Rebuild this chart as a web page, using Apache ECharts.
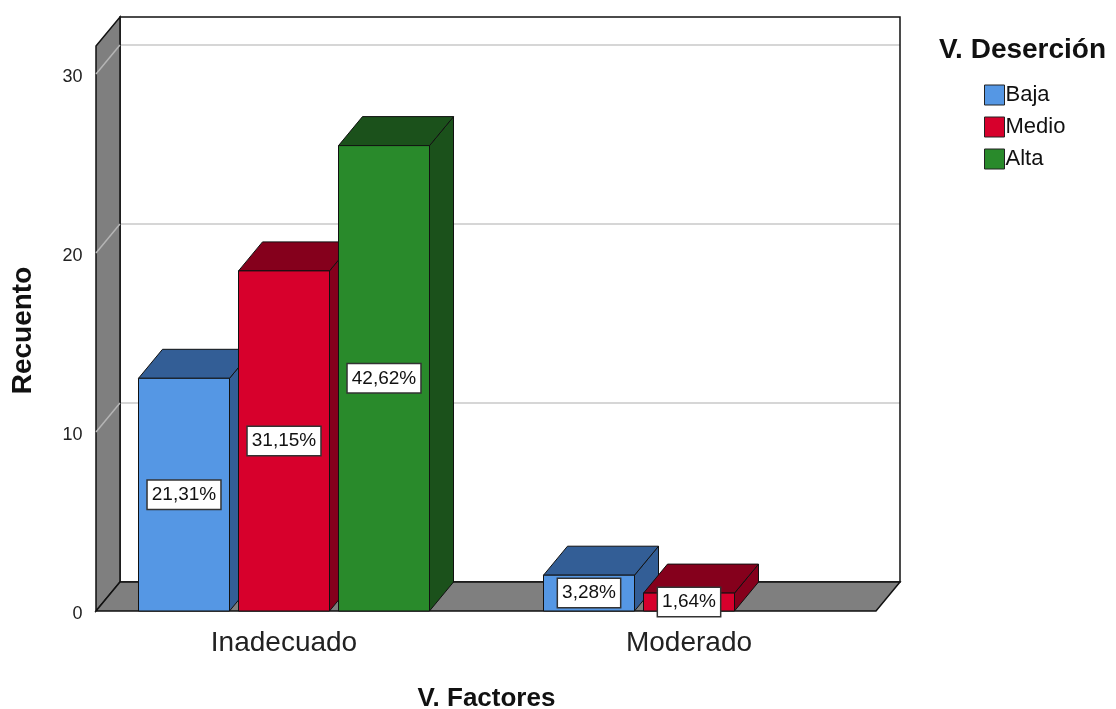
<!DOCTYPE html>
<html>
<head>
<meta charset="utf-8">
<script src="https://cdn.jsdelivr.net/npm/echarts@6/dist/echarts.min.js"></script>
<style>
html, body { margin: 0; padding: 0; background: #fff; }
#main { width: 1116px; height: 709px; }
</style>
</head>
<body>
<div id="main"></div>
<script>
// datos del grafico (recuento y porcentaje)
var categories = ['Inadecuado', 'Moderado'];
var seriesNames = ['Baja', 'Medio', 'Alta'];
var countBaja = [13, 2];
var countMedio = [19, 1];
var countAlta = [26, 0];
var pctBaja = [21.31, 3.28];
var pctMedio = [31.15, 1.64];
var pctAlta = [42.62, 0];

var FONT = '"Liberation Sans", Arial, sans-serif';
// profundidad 3D
var DX = 24, DY = -29;
var BAR_W = 91;
var offsets = [-100, 0, 100];
var frontCol = ['#5597e4', '#d7002c', '#298a2b'];
var darkCol = ['#335e96', '#85001c', '#1b511b'];

// paredes (fondo)
var wallL = 96, wallR = 900, backTop = 17, backBottom = 582, frontBottom = 611;

function fmtPct(v) {
	return v.toFixed(2).replace('.', ',') + '%';
}

function buildData(counts, pcts) {
	var arr = [];
	for (var i = 0; i < counts.length; i++) {
		arr.push([i, counts[i], pcts[i]]);
	}
	return arr;
}

function renderBar(params, api) {
	var v = api.value(1);
	if (!v) return;
	var si = params.seriesIndex;
	var p = api.coord([api.value(0), v]);
	var b = api.coord([api.value(0), 0]);
	var cx = p[0] + offsets[si];
	var x0 = cx - BAR_W / 2, x1 = cx + BAR_W / 2;
	var yt = p[1], yb = b[1];
	return {
		type: 'group',
		children: [
			{
				type: 'polygon',
				shape: { points: [[x1, yt], [x1 + DX, yt + DY], [x1 + DX, yb + DY], [x1, yb]] },
				style: { fill: darkCol[si], stroke: '#111', lineWidth: 1 }
			},
			{
				type: 'polygon',
				shape: { points: [[x0, yt], [x0 + DX, yt + DY], [x1 + DX, yt + DY], [x1, yt]] },
				style: { fill: darkCol[si], stroke: '#111', lineWidth: 1 }
			},
			{
				type: 'rect',
				shape: { x: x0, y: yt, width: BAR_W, height: yb - yt },
				style: { fill: frontCol[si], stroke: '#111', lineWidth: 1 }
			},
			{
				type: 'text',
				style: {
					text: fmtPct(api.value(2)),
					x: cx, y: (yt + yb) / 2,
					align: 'center', verticalAlign: 'middle',
					font: '19px ' + FONT,
					fill: '#111',
					backgroundColor: '#fff',
					borderColor: '#333',
					borderWidth: 1.5,
					padding: [5, 4, 4, 4]
				}
			}
		]
	};
}

var counts = [countBaja, countMedio, countAlta];
var pcts = [pctBaja, pctMedio, pctAlta];
var series = [];
for (var s = 0; s < seriesNames.length; s++) {
	series.push({
		name: seriesNames[s],
		type: 'custom',
		xAxisIndex: 0,
		yAxisIndex: 0,
		renderItem: renderBar,
		encode: { x: 0, y: 1 },
		itemStyle: { color: frontCol[s], borderColor: '#222', borderWidth: 1 },
		data: buildData(counts[s], pcts[s]),
		z: 5
	});
}

// lineas diagonales de la pared izquierda
var wallLines = [];
[10, 20, 30].forEach(function (t) {
	var yf = frontBottom - t * (frontBottom - 74) / 30;
	wallLines.push({
		type: 'line',
		shape: { x1: wallL, y1: yf, x2: wallL + DX, y2: yf + DY },
		style: { stroke: '#b5b5b5', lineWidth: 1.5 },
		z: 1
	});
});

var chart = echarts.init(document.getElementById('main'));
chart.setOption({
	animation: false,
	backgroundColor: '#fff',
	textStyle: { fontFamily: FONT },
	title: {
		text: 'V. Deserción',
		left: 934,
		top: 31,
		textStyle: { fontSize: 28, fontWeight: 'bold', color: '#111', fontFamily: FONT }
	},
	legend: {
		orient: 'vertical',
		left: 979,
		top: 79,
		icon: 'rect',
		itemWidth: 20,
		itemHeight: 20,
		itemGap: 10,
		data: seriesNames,
		itemStyle: { borderColor: '#222', borderWidth: 1 },
		textStyle: { fontSize: 22, color: '#111', padding: [2, 0, 0, -4], fontFamily: FONT }
	},
	graphic: [
		{
			type: 'rect',
			shape: { x: wallL + DX, y: backTop, width: wallR - wallL - DX, height: backBottom - backTop },
			style: { fill: 'none', stroke: '#111', lineWidth: 1.5 },
			z: 1
		},
		{
			type: 'polygon',
			shape: { points: [[wallL, backTop - DY], [wallL + DX, backTop], [wallL + DX, backBottom], [wallL, frontBottom]] },
			style: { fill: '#7f7f7f', stroke: '#111', lineWidth: 1.5 },
			z: 1
		},
		{
			type: 'polygon',
			shape: { points: [[wallL + DX, backBottom], [wallR, backBottom], [wallR - DX, frontBottom], [wallL, frontBottom]] },
			style: { fill: '#7f7f7f', stroke: '#111', lineWidth: 1.5 },
			z: 1
		}
	].concat(wallLines),
	grid: [
		{ left: 81.5, width: 810, top: 74, bottom: 709 - frontBottom, outerBoundsMode: 'none', containLabel: false },
		{ left: wallL + DX, right: 1116 - wallR, top: backTop + 28, bottom: 709 - backBottom, outerBoundsMode: 'none', containLabel: false }
	],
	xAxis: [
		{
			type: 'category',
			gridIndex: 0,
			data: categories,
			name: 'V. Factores',
			nameLocation: 'middle',
			nameGap: 75,
			nameTextStyle: { fontSize: 26, fontWeight: 'bold', color: '#111', verticalAlign: 'top', fontFamily: FONT },
			axisLine: { show: false },
			axisTick: { show: false },
			axisLabel: { fontSize: 28, color: '#222', margin: 18, fontFamily: FONT }
		},
		{
			type: 'category',
			gridIndex: 1,
			data: categories,
			show: false
		}
	],
	yAxis: [
		{
			type: 'value',
			gridIndex: 0,
			min: 0,
			max: 30,
			interval: 10,
			name: 'Recuento',
			nameLocation: 'middle',
			nameGap: 44,
			nameTextStyle: { fontSize: 28, fontWeight: 'bold', color: '#111', padding: [0, 0, 0, 24], fontFamily: FONT },
			axisLine: { show: false },
			axisTick: { show: false },
			splitLine: { show: false },
			axisLabel: { fontSize: 18, color: '#222', margin: -1, verticalAlign: 'top', lineHeight: 18, padding: [-6, 0, 0, 0], fontFamily: FONT }
		},
		{
			type: 'value',
			gridIndex: 1,
			min: 0,
			max: 30,
			interval: 10,
			axisLine: { show: false },
			axisTick: { show: false },
			axisLabel: { show: false },
			splitLine: { show: true, lineStyle: { color: '#d6d6d6', width: 2 } }
		}
	],
	series: series
});
</script>
</body>
</html>
